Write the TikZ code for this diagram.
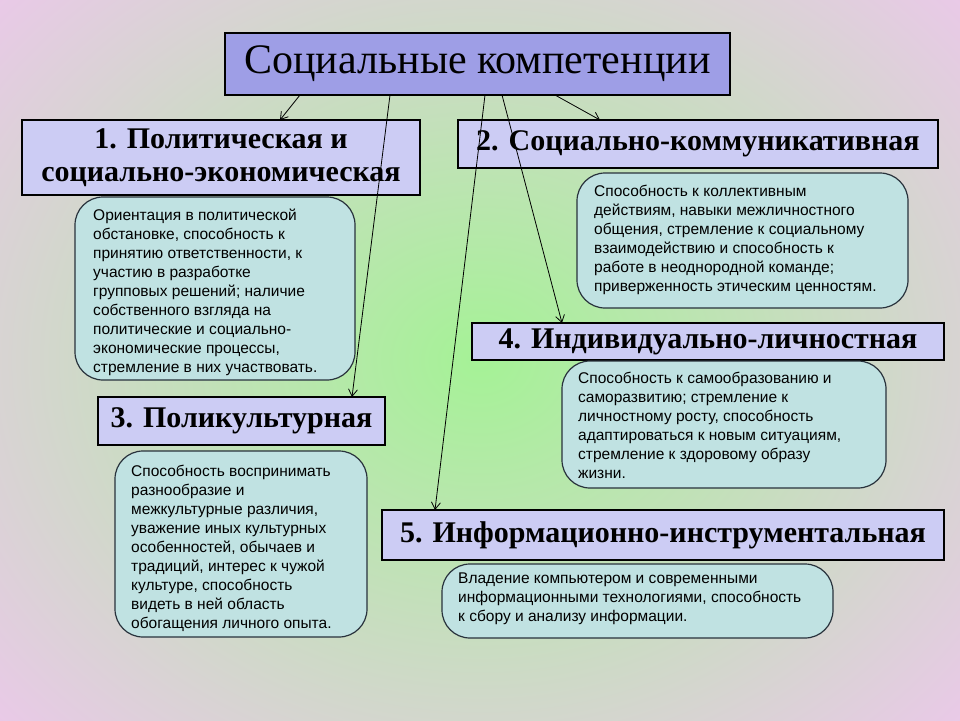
\documentclass[tikz,border=0pt]{standalone}
\usepackage{fontspec}
\setmainfont{Liberation Serif}
\newfontfamily\ds{Liberation Sans}
\usetikzlibrary{arrows.meta}
\definecolor{ttl}{RGB}{158,158,230}
\definecolor{hdr}{RGB}{204,204,244}
\definecolor{dsc}{RGB}{192,226,226}
\tikzset{
 hbox/.style={draw=black,fill=hdr,line width=1.2pt,inner sep=1pt,font=\fontsize{30}{33}\selectfont\bfseries,align=center},
 dbox/.style={draw={rgb,255:red,40;green,50;blue,60},fill=dsc,line width=1.2pt,rounded corners=28pt},
 dtext/.style={font=\ds\fontsize{15.5}{19}\selectfont,align=left,anchor=north west,inner sep=0},
 arr/.style={-{Straight Barb[length=7pt,width=9pt]},line width=0.8pt}
}
\begin{document}
\begin{tikzpicture}[x=1pt,y=-1pt]
\useasboundingbox (0,0) rectangle (960,720);
\begin{scope}
\clip (0,0) rectangle (960,720);
\shade[inner color={rgb,255:red,165;green,242;blue,150},outer color={rgb,255:red,242;green,196;blue,242}] (-250,-250) rectangle (1210,970);
\end{scope}
% headers
\node[hbox,fill=ttl,minimum width=505,minimum height=62,font=\fontsize{42}{46}\selectfont] (t) at (477.5,64) {Социальные компетенции};
\node[hbox,minimum width=398,minimum height=75] (h1) at (221,157.5) {1. Политическая и\\социально-экономическая};
\node[hbox,minimum width=480,minimum height=48] (h2) at (698,144) {2. Социально-коммуникативная};
\node[hbox,minimum width=472,minimum height=37] (h4) at (708,341.5) {4. Индивидуально-личностная};
\node[hbox,minimum width=287,minimum height=48] (h3) at (241.5,421) {3. Поликультурная};
\node[hbox,minimum width=562,minimum height=50] (h5) at (663,535) {5. Информационно-инструментальная};
% arrows
\coordinate (a1) at (300,95); \coordinate (a2) at (390,95); \coordinate (a3) at (485,95);
\coordinate (a4) at (502,95); \coordinate (a5) at (555,95);
\draw[arr] (a1) -- (280,120);
\draw[arr] (a2) -- (352,397);
\draw[arr] (a3) -- (435,510);
\draw[arr] (a4) -- (562,323);
\draw[arr] (a5) -- (600,120);
% descriptions
\draw[dbox] (75,197) rectangle (355,380);
\node[dtext] (d1) at (93,209) {Ориентация в политической\\обстановке, способность к\\принятию ответственности, к\\участию в разработке\\групповых решений; наличие\\собственного взгляда на\\политические и социально-\\экономические процессы,\\стремление в них участвовать.};
\draw[dbox] (577,173) rectangle (908,308);
\node[dtext] (d2) at (594,185) {Способность к коллективным\\действиям, навыки межличностного\\общения, стремление к социальному\\взаимодействию и способность к\\работе в неоднородной команде;\\приверженность этическим ценностям.};
\draw[dbox] (562,361) rectangle (886,488);
\node[dtext] (d4) at (578,372) {Способность к самообразованию и\\саморазвитию; стремление к\\личностному росту, способность\\адаптироваться к новым ситуациям,\\стремление к здоровому образу\\жизни.};
\draw[dbox] (115,451) rectangle (367,637);
\node[dtext] (d3) at (131,465) {Способность воспринимать\\разнообразие и\\межкультурные различия,\\уважение иных культурных\\особенностей, обычаев и\\традиций, интерес к чужой\\культуре, способность\\видеть в ней область\\обогащения личного опыта.};
\draw[dbox] (442,564) rectangle (833,638);
\node[dtext] (d5) at (458,573) {Владение компьютером и современными\\информационными технологиями, способность\\к сбору и анализу информации.};
\end{tikzpicture}
\end{document}
